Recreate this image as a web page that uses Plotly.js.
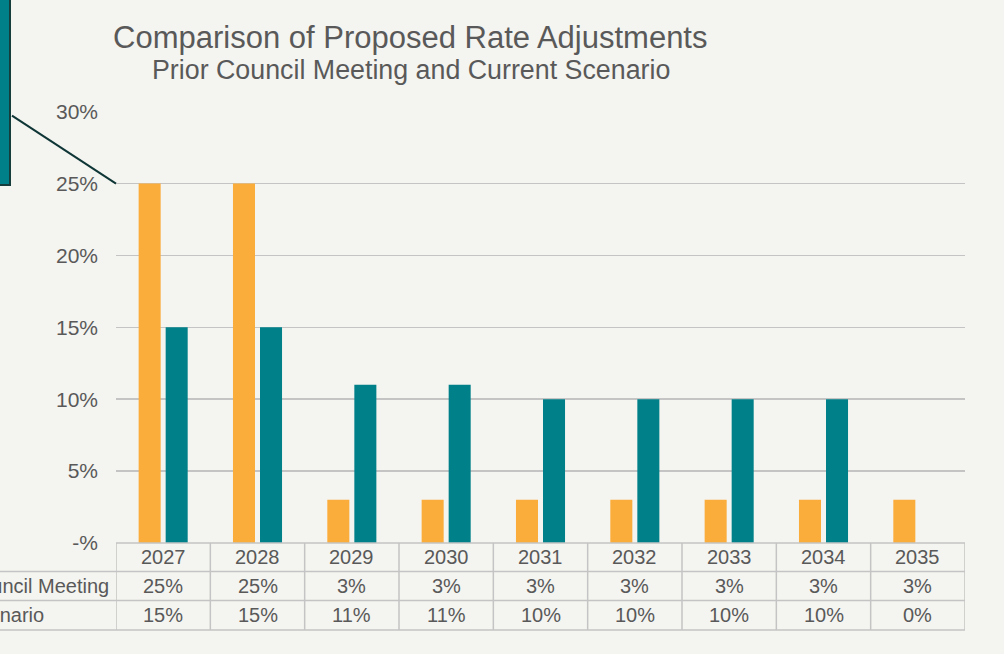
<!DOCTYPE html>
<html>
<head>
<meta charset="utf-8">
<script src="https://cdn.plot.ly/plotly-3.0.1.min.js"></script>
<style>
html,body{margin:0;padding:0;background:#f4f4f0;}
#chart{width:1004px;height:654px;}
</style>
</head>
<body>
<div id="chart"></div>
<script>
var years = ["2027","2028","2029","2030","2031","2032","2033","2034","2035"];
var priorCouncil = [25,25,3,3,3,3,3,3,3];
var currentScenario = [15,15,11,11,10,10,10,10,0];
var seriesNames = ["Prior Council Meeting","Current Scenario"];
var yTickVals = [0,5,10,15,20,25,30];
var yTickText = ["-%","5%","10%","15%","20%","25%","30%"];

var txt = "#595959";
var grid = "#c4c4c4";
var FONT = "Liberation Sans, Arial, sans-serif";

// pixel helpers for the plot box (l=116, r=965, t=111, b=543)
function px(x){ return (x-116)/849; }
function py(y){ return (543-y)/432; }

var traces = [
  {type:"bar", name:seriesNames[0], x:years, y:priorCouncil, marker:{color:"#fbad3b"}, hoverinfo:"x+y"},
  {type:"bar", name:seriesNames[1], x:years, y:currentScenario, marker:{color:"#00818a"}, hoverinfo:"x+y"}
];

var shapes = [];
var annotations = [];
// table grid
var rowLines = [543, 571.5, 600.5, 630];
rowLines.forEach(function(yy, i){
  shapes.push({type:"line", xref:"paper", yref:"paper", x0: i===0 ? 0 : -0.3, x1:1, y0:py(yy), y1:py(yy),
    line:{color:grid, width:1.5}});
});
for (var i=0;i<=years.length;i++){
  shapes.push({type:"line", xref:"x", yref:"paper", x0:i-0.5, x1:i-0.5, y0:py(543), y1:py(630),
    line:{color:grid, width:1.5}});
}
// table text
var rowY = [557, 586, 615];
var TS = 20;
years.forEach(function(yr, i){
  annotations.push({xref:"x", yref:"paper", x:i, y:py(rowY[0]), text:yr, showarrow:false,
    font:{size:TS, color:txt}, xanchor:"center", yanchor:"middle"});
  annotations.push({xref:"x", yref:"paper", x:i, y:py(rowY[1]), text:priorCouncil[i]+"%", showarrow:false,
    font:{size:TS, color:txt}, xanchor:"center", yanchor:"middle"});
  annotations.push({xref:"x", yref:"paper", x:i, y:py(rowY[2]), text:currentScenario[i]+"%", showarrow:false,
    font:{size:TS, color:txt}, xanchor:"center", yanchor:"middle"});
});
annotations.push({xref:"paper", yref:"paper", x:px(111), y:py(rowY[1]), text:seriesNames[0], showarrow:false,
  font:{size:TS, color:txt}, xanchor:"right", yanchor:"middle"});
annotations.push({xref:"paper", yref:"paper", x:px(46), y:py(rowY[2]), text:seriesNames[1], showarrow:false,
  font:{size:TS, color:txt}, xanchor:"right", yanchor:"middle"});

// titles
annotations.push({xref:"paper", yref:"paper", x:px(410), y:py(37), text:"Comparison of Proposed Rate Adjustments",
  showarrow:false, font:{size:31, color:txt}, xanchor:"center", yanchor:"middle"});
annotations.push({xref:"paper", yref:"paper", x:px(411), y:py(70), text:"Prior Council Meeting and Current Scenario",
  showarrow:false, font:{size:26.8, color:txt}, xanchor:"center", yanchor:"middle"});

// callout box partially off-page
shapes.push({type:"rect", xref:"paper", yref:"paper", x0:px(-30), x1:px(10), y0:py(185), y1:py(-30),
  fillcolor:"#00818a", line:{color:"#173c3c", width:2}});
shapes.push({type:"line", xref:"paper", yref:"y", x0:px(12), y0:25+(183-115)/14.4, x1:0, y1:25,
  line:{color:"#0f3636", width:2}});

var layout = {
  width:1004, height:654,
  margin:{l:116, r:39, t:111, b:111, pad:0},
  paper_bgcolor:"#f4f4f0", plot_bgcolor:"#f4f4f0",
  font:{family:FONT, color:txt},
  showlegend:false,
  barmode:"group", bargap:0.427, bargroupgap:0.185,
  xaxis:{type:"category", range:[-0.5, years.length-0.5], showticklabels:false, showgrid:false,
    zeroline:false, showline:false, ticks:""},
  yaxis:{range:[0,30.05], tickvals:yTickVals, ticktext:yTickText, showgrid:true, gridcolor:grid, gridwidth:1.5,
    zeroline:false, showline:false, ticks:"", tickfont:{size:21, color:txt}, ticklabelstandoff:17},
  shapes:shapes,
  annotations:annotations
};

Plotly.newPlot("chart", traces, layout, {displayModeBar:false, staticPlot:true});
</script>
</body>
</html>
